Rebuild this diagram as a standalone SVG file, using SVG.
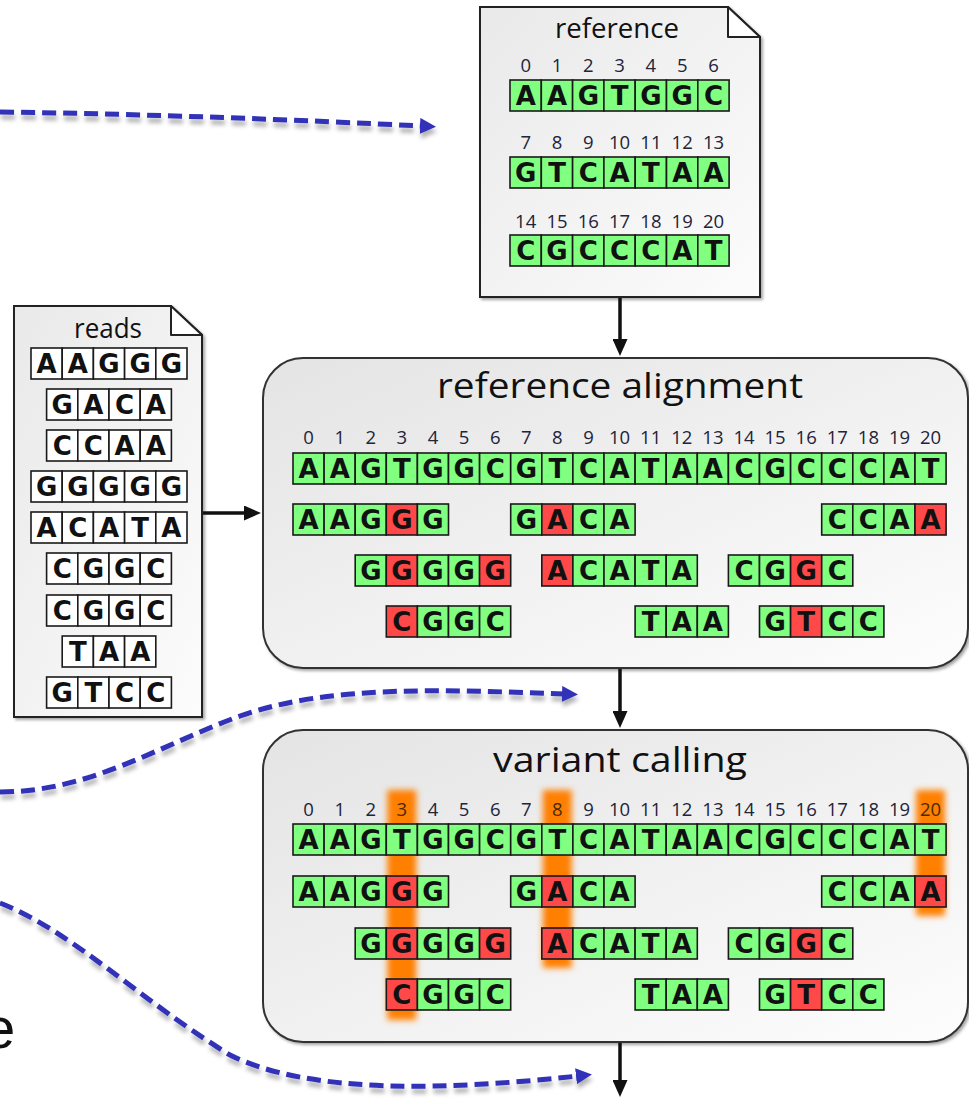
<svg xmlns="http://www.w3.org/2000/svg" width="969" height="1099" viewBox="0 0 969 1099">
  <defs>
    <linearGradient id="docFill" x1="0" y1="0" x2="1" y2="1">
      <stop offset="0" stop-color="#e9e9e9"/>
      <stop offset="1" stop-color="#fcfcfc"/>
    </linearGradient>
    <linearGradient id="boxFill" x1="0" y1="0" x2="1" y2="1">
      <stop offset="0" stop-color="#e4e4e4"/>
      <stop offset="1" stop-color="#fdfdfd"/>
    </linearGradient>
    <filter id="shadow" x="-5%" y="-5%" width="115%" height="115%">
      <feDropShadow dx="2" dy="2" stdDeviation="1.5" flood-color="#000" flood-opacity="0.35"/>
    </filter>
    <filter id="dashShadow" x="-5%" y="-20%" width="110%" height="160%">
      <feDropShadow dx="1" dy="5" stdDeviation="2" flood-color="#000" flood-opacity="0.3"/>
    </filter>
    <filter id="glow" x="-60%" y="-10%" width="220%" height="120%">
      <feGaussianBlur stdDeviation="3"/>
    </filter>
    <marker id="blackHead" markerUnits="userSpaceOnUse" markerWidth="17" markerHeight="15" refX="2" refY="7.5" orient="auto">
      <path d="M0,0 L17,7.5 L0,15 z" fill="#111"/>
    </marker>
    <marker id="blueHead" markerUnits="userSpaceOnUse" markerWidth="16" markerHeight="16" refX="2" refY="8" orient="auto">
      <path d="M0,0 L16,8 L0,16 z" fill="#3030b8"/>
    </marker>
  </defs>
  <style>
    .g { fill: #80ff80; stroke: #1a1a1a; stroke-width: 1.6; }
    .r { fill: #ff4848; stroke: #1a1a1a; stroke-width: 1.6; }
    .w { fill: #ffffff; stroke: #1a1a1a; stroke-width: 1.6; }
    .b { font-family: "DejaVu Sans", sans-serif; font-weight: bold; font-size: 26px; text-anchor: middle; fill: #111; }
    .n { font-family: "Open Sans", "Noto Sans", sans-serif; font-size: 18.5px; text-anchor: middle; fill: #22243a; }
    .title { font-family: "Open Sans", "Noto Sans", sans-serif; text-anchor: middle; fill: #111; }
    .doc { fill: url(#docFill); stroke: #222; stroke-width: 2; }
    .fold { fill: #ffffff; stroke: #222; stroke-width: 2; stroke-linejoin: round; }
    .box { fill: url(#boxFill); stroke: #333; stroke-width: 2; }
    .conn { fill: none; stroke: #111; stroke-width: 3.5; marker-end: url(#blackHead); }
    .dash { fill: none; stroke: #3030b8; stroke-width: 5; stroke-dasharray: 14 7; marker-end: url(#blueHead); }
    .glowbar { fill: #ff7f00; filter: url(#glow); }
  </style>

  <rect width="969" height="1099" fill="#ffffff"/>

  <!-- caption letter running off the left edge -->
  <text x="-17" y="1048" font-family="Liberation Sans, Arial, sans-serif" font-size="58" fill="#111">e</text>

  <!-- reference genome document -->
  <g id="reference-doc">
    <path class="doc" filter="url(#shadow)" d="M480,7 L728,7 L760,37 L760,297 L480,297 Z"/>
    <path class="fold" d="M728,7 L728,37 L760,37 Z"/>
    <text class="title" x="617" y="38" font-size="28" textLength="124" lengthAdjust="spacingAndGlyphs">reference</text>
    <g transform="translate(510,0)">
      <text class="n" y="72"><tspan x="15.7">0</tspan><tspan x="47">1</tspan><tspan x="78.3">2</tspan><tspan x="109.6">3</tspan><tspan x="140.9">4</tspan><tspan x="172.2">5</tspan><tspan x="203.5">6</tspan></text>
      <text class="n" y="149"><tspan x="15.7">7</tspan><tspan x="47">8</tspan><tspan x="78.3">9</tspan><tspan x="109.6">10</tspan><tspan x="140.9">11</tspan><tspan x="172.2">12</tspan><tspan x="203.5">13</tspan></text>
      <text class="n" y="228"><tspan x="15.7">14</tspan><tspan x="47">15</tspan><tspan x="78.3">16</tspan><tspan x="109.6">17</tspan><tspan x="140.9">18</tspan><tspan x="172.2">19</tspan><tspan x="203.5">20</tspan></text>
      <g transform="translate(0,80)">
        <rect class="g" x="0" y="0" width="31.3" height="31"/><rect class="g" x="31.3" y="0" width="31.3" height="31"/><rect class="g" x="62.6" y="0" width="31.3" height="31"/><rect class="g" x="93.9" y="0" width="31.3" height="31"/><rect class="g" x="125.2" y="0" width="31.3" height="31"/><rect class="g" x="156.5" y="0" width="31.3" height="31"/><rect class="g" x="187.8" y="0" width="31.3" height="31"/>
        <text class="b" x="15.7 47 78.3 109.6 140.9 172.2 203.5" y="25">AAGTGGC</text>
      </g>
      <g transform="translate(0,157)">
        <rect class="g" x="0" y="0" width="31.3" height="31"/><rect class="g" x="31.3" y="0" width="31.3" height="31"/><rect class="g" x="62.6" y="0" width="31.3" height="31"/><rect class="g" x="93.9" y="0" width="31.3" height="31"/><rect class="g" x="125.2" y="0" width="31.3" height="31"/><rect class="g" x="156.5" y="0" width="31.3" height="31"/><rect class="g" x="187.8" y="0" width="31.3" height="31"/>
        <text class="b" x="15.7 47 78.3 109.6 140.9 172.2 203.5" y="25">GTCATAA</text>
      </g>
      <g transform="translate(0,235)">
        <rect class="g" x="0" y="0" width="31.3" height="31"/><rect class="g" x="31.3" y="0" width="31.3" height="31"/><rect class="g" x="62.6" y="0" width="31.3" height="31"/><rect class="g" x="93.9" y="0" width="31.3" height="31"/><rect class="g" x="125.2" y="0" width="31.3" height="31"/><rect class="g" x="156.5" y="0" width="31.3" height="31"/><rect class="g" x="187.8" y="0" width="31.3" height="31"/>
        <text class="b" x="15.7 47 78.3 109.6 140.9 172.2 203.5" y="25">CGCCCAT</text>
      </g>
    </g>
  </g>

  <!-- sequencing reads document -->
  <g id="reads-doc">
    <path class="doc" filter="url(#shadow)" d="M14,306 L171,306 L202,335 L202,717 L14,717 Z"/>
    <path class="fold" d="M171,306 L171,335 L202,335 Z"/>
    <text class="title" x="108" y="338" font-size="27" textLength="68" lengthAdjust="spacingAndGlyphs">reads</text>
    <g transform="translate(31,348)">
      <rect class="w" x="0" y="0" width="31.2" height="31"/><rect class="w" x="31.2" y="0" width="31.2" height="31"/><rect class="w" x="62.4" y="0" width="31.2" height="31"/><rect class="w" x="93.6" y="0" width="31.2" height="31"/><rect class="w" x="124.8" y="0" width="31.2" height="31"/>
      <text class="b" x="15.6 46.8 78 109.2 140.4" y="25">AAGGG</text>
    </g>
    <g transform="translate(46.6,389)">
      <rect class="w" x="0" y="0" width="31.2" height="31"/><rect class="w" x="31.2" y="0" width="31.2" height="31"/><rect class="w" x="62.4" y="0" width="31.2" height="31"/><rect class="w" x="93.6" y="0" width="31.2" height="31"/>
      <text class="b" x="15.6 46.8 78 109.2" y="25">GACA</text>
    </g>
    <g transform="translate(46.6,430)">
      <rect class="w" x="0" y="0" width="31.2" height="31"/><rect class="w" x="31.2" y="0" width="31.2" height="31"/><rect class="w" x="62.4" y="0" width="31.2" height="31"/><rect class="w" x="93.6" y="0" width="31.2" height="31"/>
      <text class="b" x="15.6 46.8 78 109.2" y="25">CCAA</text>
    </g>
    <g transform="translate(31,471)">
      <rect class="w" x="0" y="0" width="31.2" height="31"/><rect class="w" x="31.2" y="0" width="31.2" height="31"/><rect class="w" x="62.4" y="0" width="31.2" height="31"/><rect class="w" x="93.6" y="0" width="31.2" height="31"/><rect class="w" x="124.8" y="0" width="31.2" height="31"/>
      <text class="b" x="15.6 46.8 78 109.2 140.4" y="25">GGGGG</text>
    </g>
    <g transform="translate(31,512)">
      <rect class="w" x="0" y="0" width="31.2" height="31"/><rect class="w" x="31.2" y="0" width="31.2" height="31"/><rect class="w" x="62.4" y="0" width="31.2" height="31"/><rect class="w" x="93.6" y="0" width="31.2" height="31"/><rect class="w" x="124.8" y="0" width="31.2" height="31"/>
      <text class="b" x="15.6 46.8 78 109.2 140.4" y="25">ACATA</text>
    </g>
    <g transform="translate(46.6,553)">
      <rect class="w" x="0" y="0" width="31.2" height="31"/><rect class="w" x="31.2" y="0" width="31.2" height="31"/><rect class="w" x="62.4" y="0" width="31.2" height="31"/><rect class="w" x="93.6" y="0" width="31.2" height="31"/>
      <text class="b" x="15.6 46.8 78 109.2" y="25">CGGC</text>
    </g>
    <g transform="translate(46.6,595)">
      <rect class="w" x="0" y="0" width="31.2" height="31"/><rect class="w" x="31.2" y="0" width="31.2" height="31"/><rect class="w" x="62.4" y="0" width="31.2" height="31"/><rect class="w" x="93.6" y="0" width="31.2" height="31"/>
      <text class="b" x="15.6 46.8 78 109.2" y="25">CGGC</text>
    </g>
    <g transform="translate(62.2,636)">
      <rect class="w" x="0" y="0" width="31.2" height="31"/><rect class="w" x="31.2" y="0" width="31.2" height="31"/><rect class="w" x="62.4" y="0" width="31.2" height="31"/>
      <text class="b" x="15.6 46.8 78" y="25">TAA</text>
    </g>
    <g transform="translate(46.6,677)">
      <rect class="w" x="0" y="0" width="31.2" height="31"/><rect class="w" x="31.2" y="0" width="31.2" height="31"/><rect class="w" x="62.4" y="0" width="31.2" height="31"/><rect class="w" x="93.6" y="0" width="31.2" height="31"/>
      <text class="b" x="15.6 46.8 78 109.2" y="25">GTCC</text>
    </g>
  </g>

  <!-- reference alignment step -->
  <g id="reference-alignment">
    <rect class="box" filter="url(#shadow)" x="263" y="358" width="705" height="310" rx="40" ry="40"/>
    <text class="title" x="620" y="398" font-size="35" textLength="366" lengthAdjust="spacingAndGlyphs">reference alignment</text>
    <g transform="translate(293,358)">
      <text class="n" y="86"><tspan x="15.6">0</tspan><tspan x="46.7">1</tspan><tspan x="77.8">2</tspan><tspan x="108.9">3</tspan><tspan x="140">4</tspan><tspan x="171.1">5</tspan><tspan x="202.2">6</tspan><tspan x="233.3">7</tspan><tspan x="264.4">8</tspan><tspan x="295.5">9</tspan><tspan x="326.6">10</tspan><tspan x="357.7">11</tspan><tspan x="388.8">12</tspan><tspan x="419.9">13</tspan><tspan x="451">14</tspan><tspan x="482.1">15</tspan><tspan x="513.2">16</tspan><tspan x="544.3">17</tspan><tspan x="575.4">18</tspan><tspan x="606.5">19</tspan><tspan x="637.6">20</tspan></text>
      <g transform="translate(0,95)">
        <rect class="g" x="0" width="31.1" height="31"/><rect class="g" x="31.1" width="31.1" height="31"/><rect class="g" x="62.2" width="31.1" height="31"/><rect class="g" x="93.3" width="31.1" height="31"/><rect class="g" x="124.4" width="31.1" height="31"/><rect class="g" x="155.5" width="31.1" height="31"/><rect class="g" x="186.6" width="31.1" height="31"/><rect class="g" x="217.7" width="31.1" height="31"/><rect class="g" x="248.8" width="31.1" height="31"/><rect class="g" x="279.9" width="31.1" height="31"/><rect class="g" x="311" width="31.1" height="31"/><rect class="g" x="342.1" width="31.1" height="31"/><rect class="g" x="373.2" width="31.1" height="31"/><rect class="g" x="404.3" width="31.1" height="31"/><rect class="g" x="435.4" width="31.1" height="31"/><rect class="g" x="466.5" width="31.1" height="31"/><rect class="g" x="497.6" width="31.1" height="31"/><rect class="g" x="528.7" width="31.1" height="31"/><rect class="g" x="559.8" width="31.1" height="31"/><rect class="g" x="590.9" width="31.1" height="31"/><rect class="g" x="622" width="31.1" height="31"/>
        <text class="b" x="15.6 46.7 77.8 108.9 140 171.1 202.2 233.3 264.4 295.5 326.6 357.7 388.8 419.9 451 482.1 513.2 544.3 575.4 606.5 637.6" y="25">AAGTGGCGTCATAACGCCCAT</text>
      </g>
      <!-- read row 1 -->
      <g transform="translate(0,146)">
        <rect class="g" x="0" width="31.1" height="31"/><rect class="g" x="31.1" width="31.1" height="31"/><rect class="g" x="62.2" width="31.1" height="31"/><rect class="r" x="93.3" width="31.1" height="31"/><rect class="g" x="124.4" width="31.1" height="31"/>
        <text class="b" x="15.6 46.7 77.8 108.9 140" y="25">AAGGG</text>
        <rect class="g" x="217.7" width="31.1" height="31"/><rect class="r" x="248.8" width="31.1" height="31"/><rect class="g" x="279.9" width="31.1" height="31"/><rect class="g" x="311" width="31.1" height="31"/>
        <text class="b" x="233.3 264.4 295.5 326.6" y="25">GACA</text>
        <rect class="g" x="528.7" width="31.1" height="31"/><rect class="g" x="559.8" width="31.1" height="31"/><rect class="g" x="590.9" width="31.1" height="31"/><rect class="r" x="622" width="31.1" height="31"/>
        <text class="b" x="544.3 575.4 606.5 637.6" y="25">CCAA</text>
      </g>
      <!-- read row 2 -->
      <g transform="translate(0,197)">
        <rect class="g" x="62.2" width="31.1" height="31"/><rect class="r" x="93.3" width="31.1" height="31"/><rect class="g" x="124.4" width="31.1" height="31"/><rect class="g" x="155.5" width="31.1" height="31"/><rect class="r" x="186.6" width="31.1" height="31"/>
        <text class="b" x="77.8 108.9 140 171.1 202.2" y="25">GGGGG</text>
        <rect class="r" x="248.8" width="31.1" height="31"/><rect class="g" x="279.9" width="31.1" height="31"/><rect class="g" x="311" width="31.1" height="31"/><rect class="g" x="342.1" width="31.1" height="31"/><rect class="g" x="373.2" width="31.1" height="31"/>
        <text class="b" x="264.4 295.5 326.6 357.7 388.8" y="25">ACATA</text>
        <rect class="g" x="435.4" width="31.1" height="31"/><rect class="g" x="466.5" width="31.1" height="31"/><rect class="r" x="497.6" width="31.1" height="31"/><rect class="g" x="528.7" width="31.1" height="31"/>
        <text class="b" x="451 482.1 513.2 544.3" y="25">CGGC</text>
      </g>
      <!-- read row 3 -->
      <g transform="translate(0,248)">
        <rect class="r" x="93.3" width="31.1" height="31"/><rect class="g" x="124.4" width="31.1" height="31"/><rect class="g" x="155.5" width="31.1" height="31"/><rect class="g" x="186.6" width="31.1" height="31"/>
        <text class="b" x="108.9 140 171.1 202.2" y="25">CGGC</text>
        <rect class="g" x="342.1" width="31.1" height="31"/><rect class="g" x="373.2" width="31.1" height="31"/><rect class="g" x="404.3" width="31.1" height="31"/>
        <text class="b" x="357.7 388.8 419.9" y="25">TAA</text>
        <rect class="g" x="466.5" width="31.1" height="31"/><rect class="r" x="497.6" width="31.1" height="31"/><rect class="g" x="528.7" width="31.1" height="31"/><rect class="g" x="559.8" width="31.1" height="31"/>
        <text class="b" x="482.1 513.2 544.3 575.4" y="25">GTCC</text>
      </g>
    </g>
  </g>

  <!-- variant calling step -->
  <g id="variant-calling">
    <rect class="box" filter="url(#shadow)" x="263" y="730" width="705" height="312" rx="40" ry="40"/>
    <text class="title" x="620" y="772" font-size="35" textLength="254" lengthAdjust="spacingAndGlyphs">variant calling</text>
    <g transform="translate(293,730)">
      <!-- highlighted variant columns -->
      <rect class="glowbar" x="94.3" y="60" width="29" height="230"/>
      <rect class="glowbar" x="249.8" y="60" width="29" height="178"/>
      <rect class="glowbar" x="623" y="60" width="29" height="126"/>
      <text class="n" y="86"><tspan x="15.6">0</tspan><tspan x="46.7">1</tspan><tspan x="77.8">2</tspan><tspan x="108.9" fill="#4a2a00">3</tspan><tspan x="140">4</tspan><tspan x="171.1">5</tspan><tspan x="202.2">6</tspan><tspan x="233.3">7</tspan><tspan x="264.4" fill="#4a2a00">8</tspan><tspan x="295.5">9</tspan><tspan x="326.6">10</tspan><tspan x="357.7">11</tspan><tspan x="388.8">12</tspan><tspan x="419.9">13</tspan><tspan x="451">14</tspan><tspan x="482.1">15</tspan><tspan x="513.2">16</tspan><tspan x="544.3">17</tspan><tspan x="575.4">18</tspan><tspan x="606.5">19</tspan><tspan x="637.6" fill="#4a2a00">20</tspan></text>
      <g transform="translate(0,94)">
        <rect class="g" x="0" width="31.1" height="31"/><rect class="g" x="31.1" width="31.1" height="31"/><rect class="g" x="62.2" width="31.1" height="31"/><rect class="g" x="93.3" width="31.1" height="31"/><rect class="g" x="124.4" width="31.1" height="31"/><rect class="g" x="155.5" width="31.1" height="31"/><rect class="g" x="186.6" width="31.1" height="31"/><rect class="g" x="217.7" width="31.1" height="31"/><rect class="g" x="248.8" width="31.1" height="31"/><rect class="g" x="279.9" width="31.1" height="31"/><rect class="g" x="311" width="31.1" height="31"/><rect class="g" x="342.1" width="31.1" height="31"/><rect class="g" x="373.2" width="31.1" height="31"/><rect class="g" x="404.3" width="31.1" height="31"/><rect class="g" x="435.4" width="31.1" height="31"/><rect class="g" x="466.5" width="31.1" height="31"/><rect class="g" x="497.6" width="31.1" height="31"/><rect class="g" x="528.7" width="31.1" height="31"/><rect class="g" x="559.8" width="31.1" height="31"/><rect class="g" x="590.9" width="31.1" height="31"/><rect class="g" x="622" width="31.1" height="31"/>
        <text class="b" x="15.6 46.7 77.8 108.9 140 171.1 202.2 233.3 264.4 295.5 326.6 357.7 388.8 419.9 451 482.1 513.2 544.3 575.4 606.5 637.6" y="25">AAGTGGCGTCATAACGCCCAT</text>
      </g>
      <!-- read row 1 -->
      <g transform="translate(0,146)">
        <rect class="g" x="0" width="31.1" height="31"/><rect class="g" x="31.1" width="31.1" height="31"/><rect class="g" x="62.2" width="31.1" height="31"/><rect class="r" x="93.3" width="31.1" height="31"/><rect class="g" x="124.4" width="31.1" height="31"/>
        <text class="b" x="15.6 46.7 77.8 108.9 140" y="25">AAGGG</text>
        <rect class="g" x="217.7" width="31.1" height="31"/><rect class="r" x="248.8" width="31.1" height="31"/><rect class="g" x="279.9" width="31.1" height="31"/><rect class="g" x="311" width="31.1" height="31"/>
        <text class="b" x="233.3 264.4 295.5 326.6" y="25">GACA</text>
        <rect class="g" x="528.7" width="31.1" height="31"/><rect class="g" x="559.8" width="31.1" height="31"/><rect class="g" x="590.9" width="31.1" height="31"/><rect class="r" x="622" width="31.1" height="31"/>
        <text class="b" x="544.3 575.4 606.5 637.6" y="25">CCAA</text>
      </g>
      <!-- read row 2 -->
      <g transform="translate(0,198)">
        <rect class="g" x="62.2" width="31.1" height="31"/><rect class="r" x="93.3" width="31.1" height="31"/><rect class="g" x="124.4" width="31.1" height="31"/><rect class="g" x="155.5" width="31.1" height="31"/><rect class="r" x="186.6" width="31.1" height="31"/>
        <text class="b" x="77.8 108.9 140 171.1 202.2" y="25">GGGGG</text>
        <rect class="r" x="248.8" width="31.1" height="31"/><rect class="g" x="279.9" width="31.1" height="31"/><rect class="g" x="311" width="31.1" height="31"/><rect class="g" x="342.1" width="31.1" height="31"/><rect class="g" x="373.2" width="31.1" height="31"/>
        <text class="b" x="264.4 295.5 326.6 357.7 388.8" y="25">ACATA</text>
        <rect class="g" x="435.4" width="31.1" height="31"/><rect class="g" x="466.5" width="31.1" height="31"/><rect class="r" x="497.6" width="31.1" height="31"/><rect class="g" x="528.7" width="31.1" height="31"/>
        <text class="b" x="451 482.1 513.2 544.3" y="25">CGGC</text>
      </g>
      <!-- read row 3 -->
      <g transform="translate(0,249)">
        <rect class="r" x="93.3" width="31.1" height="31"/><rect class="g" x="124.4" width="31.1" height="31"/><rect class="g" x="155.5" width="31.1" height="31"/><rect class="g" x="186.6" width="31.1" height="31"/>
        <text class="b" x="108.9 140 171.1 202.2" y="25">CGGC</text>
        <rect class="g" x="342.1" width="31.1" height="31"/><rect class="g" x="373.2" width="31.1" height="31"/><rect class="g" x="404.3" width="31.1" height="31"/>
        <text class="b" x="357.7 388.8 419.9" y="25">TAA</text>
        <rect class="g" x="466.5" width="31.1" height="31"/><rect class="r" x="497.6" width="31.1" height="31"/><rect class="g" x="528.7" width="31.1" height="31"/><rect class="g" x="559.8" width="31.1" height="31"/>
        <text class="b" x="482.1 513.2 544.3 575.4" y="25">GTCC</text>
      </g>
    </g>
  </g>

  <!-- connectors -->
  <g id="connectors">
    <path class="conn" d="M620,298 L620,341"/>
    <path class="conn" d="M203,513 L246,513"/>
    <path class="conn" d="M620,669 L620,713"/>
    <path class="conn" d="M620,1043 L620,1082"/>
    <g filter="url(#dashShadow)">
      <path class="dash" d="M0,112 C150,114 300,120 422,126"/>
      <path class="dash" d="M0,792 C90,792 160,745 240,716 C330,684 450,690 564,694"/>
      <path class="dash" d="M0,903 C70,930 140,1000 230,1055 C310,1095 450,1090 578,1076"/>
    </g>
  </g>
</svg>
